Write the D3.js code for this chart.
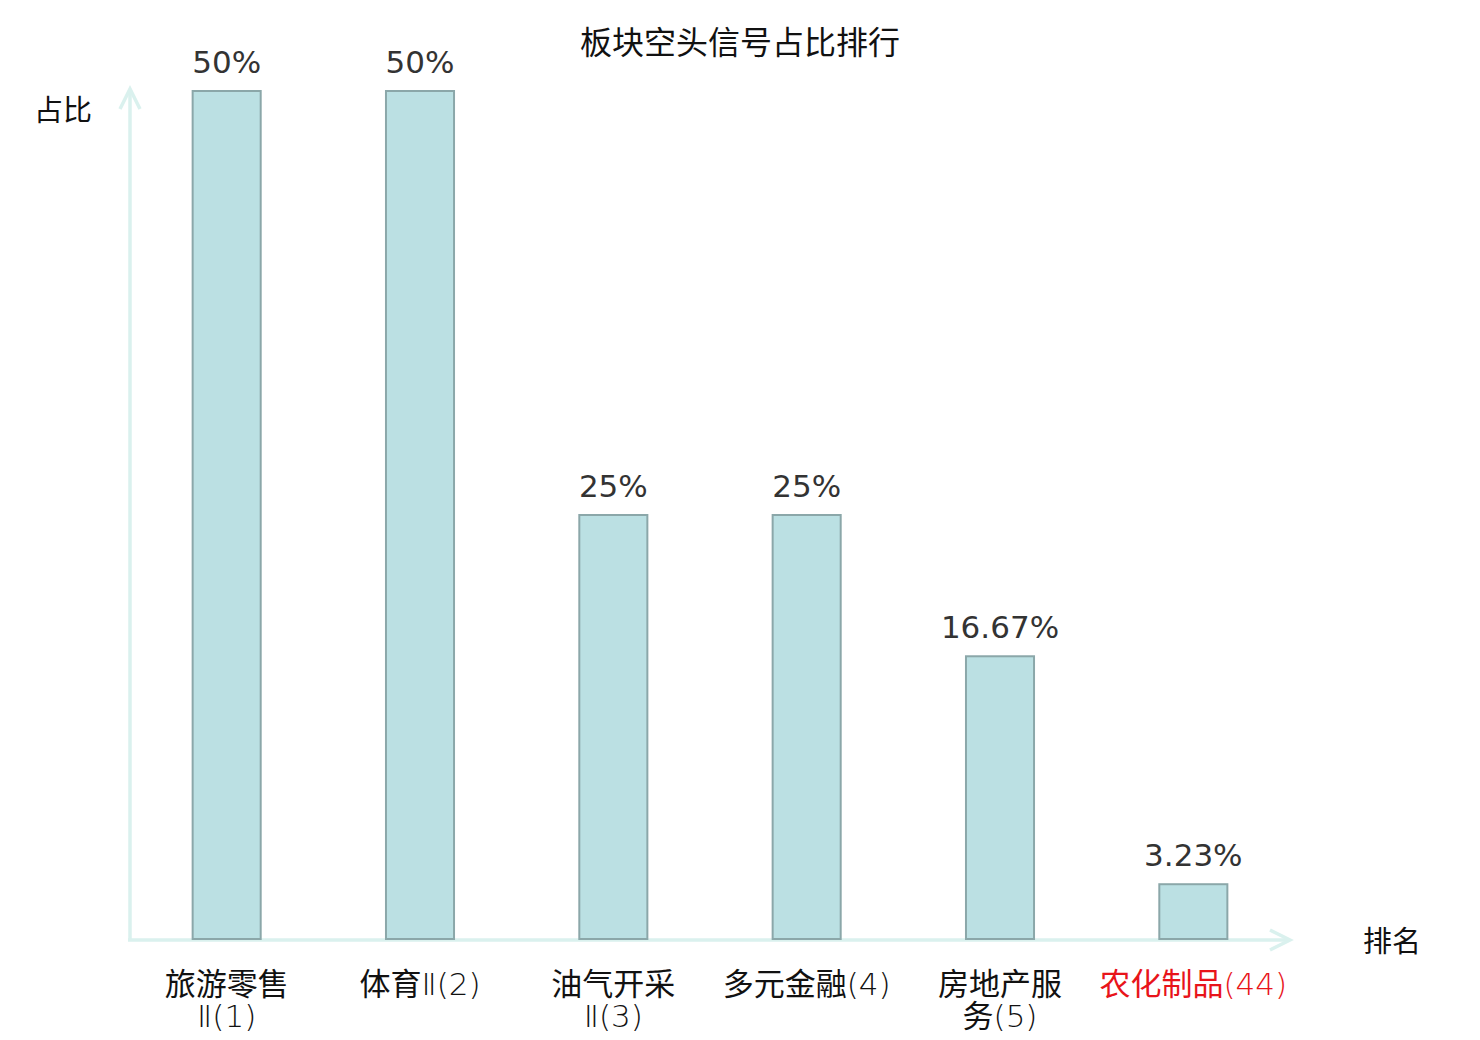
<!DOCTYPE html>
<html>
<meta charset="utf-8">
<head>
<title>板块空头信号占比排行</title>
<style>
body { margin: 0; background: #fff; }
.bar { fill: #bbe0e3; stroke: #8ba7a9; stroke-width: 2px; }
.axisLine { stroke: #daf1ee; stroke-width: 3.5px; fill: none; }
.valueLabel { font-family: "DejaVu Sans", sans-serif; font-size: 31px; fill: #333; text-anchor: middle; }
.tickLabel { font-family: "Noto Sans CJK SC", sans-serif; font-size: 31px; fill: #111; text-anchor: middle; }
.latin { font-family: "DejaVu Sans", sans-serif; font-weight: 200; }
.cjk { font-family: "Noto Sans CJK SC", sans-serif; fill: #111; }
</style>
</head>
<body>
<script src="https://cdn.jsdelivr.net/npm/d3@7"></script>
<script>

// data
var categories = ["旅游零售\nⅡ(1)", "体育Ⅱ(2)", "油气开采\nⅡ(3)", "多元金融(4)", "房地产服\n务(5)", "农化制品(44)"];
var values = [50, 50, 25, 25, 16.67, 3.23];
var valueLabels = ["50%", "50%", "25%", "25%", "16.67%", "3.23%"];
var highlight = "农化制品(44)";

var svg = d3.select("body").append("svg")
    .attr("width", 1480)
    .attr("height", 1040);

// scales
var x = d3.scaleBand()
    .domain(categories)
    .range([130, 1290])
    .paddingInner(0.648)
    .paddingOuter(0.324);

var y = d3.scaleLinear()
    .domain([0, 50])
    .range([939, 91]);

// title
svg.append("text")
    .attr("class", "cjk")
    .attr("x", 740)
    .attr("y", 54)
    .attr("text-anchor", "middle")
    .style("font-size", "32px")
    .text("板块空头信号占比排行");

// axes with arrow heads
svg.append("path").attr("class", "axisLine")
    .attr("d", "M128 940 L1290 940");
svg.append("path").attr("class", "axisLine")
    .attr("d", "M1270 930 L1290 940 L1270 950");
svg.append("path").attr("class", "axisLine")
    .attr("d", "M130 940 L130 89");
svg.append("path").attr("class", "axisLine")
    .attr("d", "M120 109 L130 89 L140 109");

// axis names
svg.append("text")
    .attr("class", "cjk")
    .attr("x", 63)
    .attr("y", 121)
    .attr("text-anchor", "middle")
    .style("font-size", "29px")
    .text("占比");

svg.append("text")
    .attr("class", "cjk")
    .attr("x", 1392)
    .attr("y", 952)
    .attr("text-anchor", "middle")
    .style("font-size", "29px")
    .text("排名");

// bars
svg.selectAll(".bar")
    .data(values).enter()
    .append("rect")
    .attr("class", "bar")
    .attr("x", function(d, i) { return x(categories[i]); })
    .attr("y", function(d) { return y(d); })
    .attr("width", x.bandwidth())
    .attr("height", function(d) { return y(0) - y(d); });

// value labels
svg.selectAll(".valueLabel")
    .data(values).enter()
    .append("text")
    .attr("class", "valueLabel")
    .attr("x", function(d, i) { return x(categories[i]) + x.bandwidth() / 2; })
    .attr("y", function(d) { return y(d) - 18; })
    .text(function(d, i) { return valueLabels[i]; });

// category labels, one text per line; latin runs in a thin face
categories.forEach(function(cat) {
  var cx = x(cat) + x.bandwidth() / 2;
  cat.split("\n").forEach(function(line, j) {
    var t = svg.append("text")
      .attr("class", "tickLabel")
      .attr("x", cx)
      .attr("y", 995 + j * 32)
      .style("fill", cat === highlight ? "#e8141a" : null);
    line.match(/[\u4e00-\u9fff]+|[^\u4e00-\u9fff]+/g).forEach(function(run) {
      t.append("tspan")
        .attr("class", /[\u4e00-\u9fff]/.test(run) ? null : "latin")
        .text(run);
    });
  });
});

</script>
</body>
</html>
